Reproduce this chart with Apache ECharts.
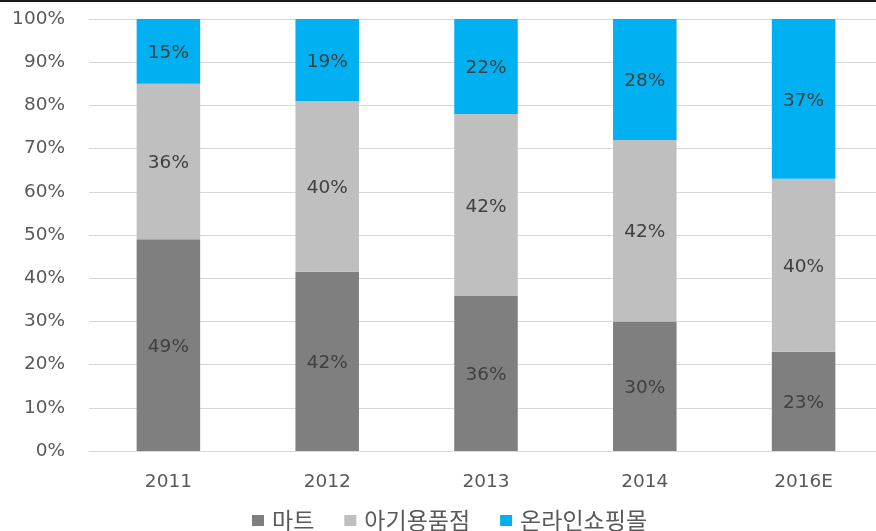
<!DOCTYPE html>
<html>
<head>
<meta charset="utf-8">
<script src="https://cdn.jsdelivr.net/npm/echarts@6/dist/echarts.min.js"></script>
<style>
html,body{margin:0;padding:0;background:#fff;overflow:hidden;}
#wrap{width:876px;height:531px;overflow:hidden;position:relative;}
#chart{width:884px;height:531px;}
</style>
</head>
<body>
<div id="wrap"><div id="chart"></div></div>
<script>
var categories = ['2011', '2012', '2013', '2014', '2016E'];
var martValues = [49, 41.5, 36, 30, 23];
var babyStoreValues = [36, 39.5, 42, 42, 40];
var onlineValues = [15, 19, 22, 28, 37];
var seriesNames = ['마트', '아기용품점', '온라인쇼핑몰'];
var yTicks = [0, 10, 20, 30, 40, 50, 60, 70, 80, 90, 100];

var NUMFONT = '"DejaVu Sans", "Noto Sans", sans-serif';
var KFONT = '"Noto Sans CJK KR", "Noto Sans", sans-serif';
var colors = ['#7f7f7f', '#bfbfbf', '#00b0f0'];

function mk(name, data, color) {
  return {
    name: name,
    type: 'bar',
    stack: 'total',
    barWidth: '40%',
    data: data,
    itemStyle: { color: color },
    label: {
      show: true,
      position: 'inside',
      color: '#404040',
      fontFamily: NUMFONT,
      fontSize: 18.5,
      offset: [0, 2],
      formatter: function (p) { return Math.round(p.value) + '%'; }
    }
  };
}

var chart = echarts.init(document.getElementById('chart'));
chart.setOption({
  animation: false,
  color: colors,
  grid: { left: 89, top: 19, width: 794, height: 432 },
  legend: {
    top: 504,
    left: 247,
    itemWidth: 12,
    itemHeight: 11,
    itemGap: 30,
    icon: 'rect',
    textStyle: { fontFamily: KFONT, fontSize: 23, color: '#595959', padding: [0, 0, 0, 3] },
    data: seriesNames
  },
  xAxis: {
    type: 'category',
    data: categories,
    axisLine: { lineStyle: { color: '#d9d9d9', width: 1 } },
    axisTick: { show: false },
    axisLabel: { color: '#595959', fontFamily: NUMFONT, fontSize: 18.5, margin: 22 }
  },
  yAxis: {
    type: 'value',
    min: yTicks[0],
    max: yTicks[yTicks.length - 1],
    interval: 10,
    axisLine: { show: false },
    axisTick: { show: false },
    splitLine: { lineStyle: { color: '#d9d9d9', width: 1 } },
    axisLabel: { color: '#595959', fontFamily: NUMFONT, fontSize: 18.5, margin: 24, formatter: '{value}%' }
  },
  graphic: [{
    type: 'rect',
    shape: { x: 0, y: 0, width: 884, height: 2 },
    style: { fill: '#1a1a1a' },
    silent: true
  }],
  series: [
    mk(seriesNames[0], martValues, colors[0]),
    mk(seriesNames[1], babyStoreValues, colors[1]),
    mk(seriesNames[2], onlineValues, colors[2])
  ]
});
</script>
</body>
</html>
